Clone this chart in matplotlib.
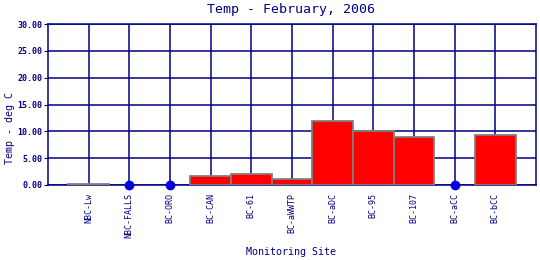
import numpy as np
import matplotlib
matplotlib.use("Agg")
import matplotlib.pyplot as plt

# data
sites = ["NBC-Lw", "NBC-FALLS", "BC-ORO", "BC-CAN", "BC-61", "BC-aWWTP",
         "BC-aDC", "BC-95", "BC-107", "BC-aCC", "BC-bCC"]
temps = [0.1, None, None, 1.6, 2.0, 1.2, 11.9, 10.0, 8.9, None, 9.4]
y_ticks = [0, 5, 10, 15, 20, 25, 30]

navy = "#000080"
mono = "DejaVu Sans Mono"

fig = plt.figure(figsize=(5.4, 2.6), dpi=100)
ax = fig.add_axes([48 / 540, 1 - 185 / 260, 488 / 540, 161 / 260])

x = np.arange(1, len(sites) + 1)
have = [i for i, t in enumerate(temps) if t is not None]
missing = [i for i, t in enumerate(temps) if t is None]

ax.bar(x[have], [temps[i] for i in have], width=1.0, color="#ff0000",
       edgecolor="#808080", linewidth=1.3, zorder=3)
ax.plot(x[missing], [0] * len(missing), "o", color="#0000dd",
        markersize=6, zorder=4, clip_on=False)

ax.set_xlim(0, 12)
ax.set_ylim(0, 30)
ax.set_xticks(x)
ax.set_xticklabels(sites, rotation=90, family=mono, fontsize=6, color=navy)
ax.set_yticks(y_ticks)
ax.set_yticklabels([f"{v:.2f}" for v in y_ticks], family=mono,
                   fontsize=6, fontweight="bold", color=navy)
ax.tick_params(axis="x", length=0, pad=6)
ax.tick_params(axis="y", length=3, color=navy, pad=1)

ax.grid(True, color=navy, linewidth=1.1, zorder=0)
ax.set_axisbelow(True)
for s in ax.spines.values():
    s.set_color(navy)
    s.set_linewidth(1.1)

fig.text(291 / 540, 1 - 9 / 260, "Temp - February, 2006", ha="center",
         va="center", family=mono, fontsize=9.5, color=navy)
fig.text(10 / 540, 1 - 128 / 260, "Temp - deg C", ha="center", va="center",
         rotation=90, family=mono, fontsize=7.2, color=navy)
fig.text(291 / 540, 1 - 252 / 260, "Monitoring Site", ha="center",
         va="center", family=mono, fontsize=7.2, color=navy)

fig.savefig("out.png", dpi=100)
